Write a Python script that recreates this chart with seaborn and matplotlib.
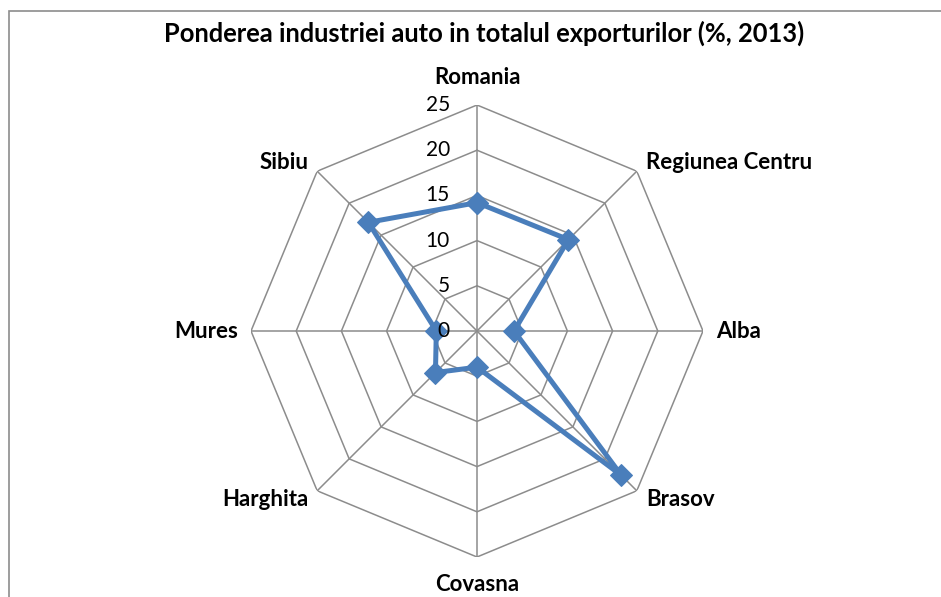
import numpy as np
import pandas as pd
import matplotlib
matplotlib.use("Agg")
import matplotlib.pyplot as plt
from matplotlib.patches import Rectangle
import seaborn as sns

# data
categories = ["Romania", "Regiunea Centru", "Alba", "Brasov",
              "Covasna", "Harghita", "Mures", "Sibiu"]
pondere = [14.2, 14.3, 4.1, 22.6, 4.0, 6.5, 4.5, 17.0]
rticks = [0, 5, 10, 15, 20, 25]
title = "Ponderea industriei auto in totalul exporturilor (%, 2013)"

sns.set_theme(style="white")
plt.rcParams["font.family"] = ["Lato", "DejaVu Sans"]

n = len(categories)
theta = np.linspace(0, 2 * np.pi, n, endpoint=False)
theta_c = np.append(theta, 2 * np.pi)
df = pd.DataFrame({"theta": theta_c, "val": pondere + pondere[:1]})

fig = plt.figure(figsize=(9.41, 5.97), dpi=100)
ax = fig.add_axes([251 / 941, 40 / 597, 452 / 941, 452 / 597], projection="polar")
ax.set_theta_zero_location("N")
ax.set_theta_direction(-1)
ax.set_ylim(0, 25)
ax.grid(False)
ax.spines["polar"].set_visible(False)
ax.set_xticks([])
ax.set_yticks([])

grid_col = "#8c8c8c"
# octagon grid
for r in rticks[1:]:
    ax.plot(theta_c, [r] * (n + 1), color=grid_col, lw=1.1, zorder=1)
for t in theta:
    ax.plot([t, t], [0, 25], color=grid_col, lw=1.1, zorder=1)

sns.lineplot(data=df, x="theta", y="val", sort=False, ax=ax, color="#4a7ebb",
             lw=3.6, marker="D", markersize=11, markeredgecolor="#4a7ebb", zorder=3)
ax.set_xlabel("")
ax.set_ylabel("")

# radial labels
for r in rticks:
    ax.annotate(str(r), xy=(0, r), xytext=(-19.5, 0), textcoords="offset points",
                ha="right", va="center", fontsize=15, color="black",
                annotation_clip=False)

# category labels
for t, lab in zip(theta, categories):
    s, c = np.sin(t), np.cos(t)
    if abs(s) < 0.1:
        ha, rr = "center", 28.0
    elif s > 0:
        ha, rr = "left", 26.4
    else:
        ha, rr = "right", 26.4
    ax.text(t, rr, lab, ha=ha, va="center", fontsize=16, fontweight="bold",
            color="black", clip_on=False)

fig.text(484 / 941, 1 - 33 / 597, title, ha="center", va="center",
         fontsize=18.4, fontweight="bold", color="black")

fig.patches.append(Rectangle((8.5 / 941, -0.1), 1.2, 1 - 11 / 597 + 0.1,
                             transform=fig.transFigure, fill=False,
                             ec="#8c8c8c", lw=1.2))

fig.savefig("out.png", dpi=100)
